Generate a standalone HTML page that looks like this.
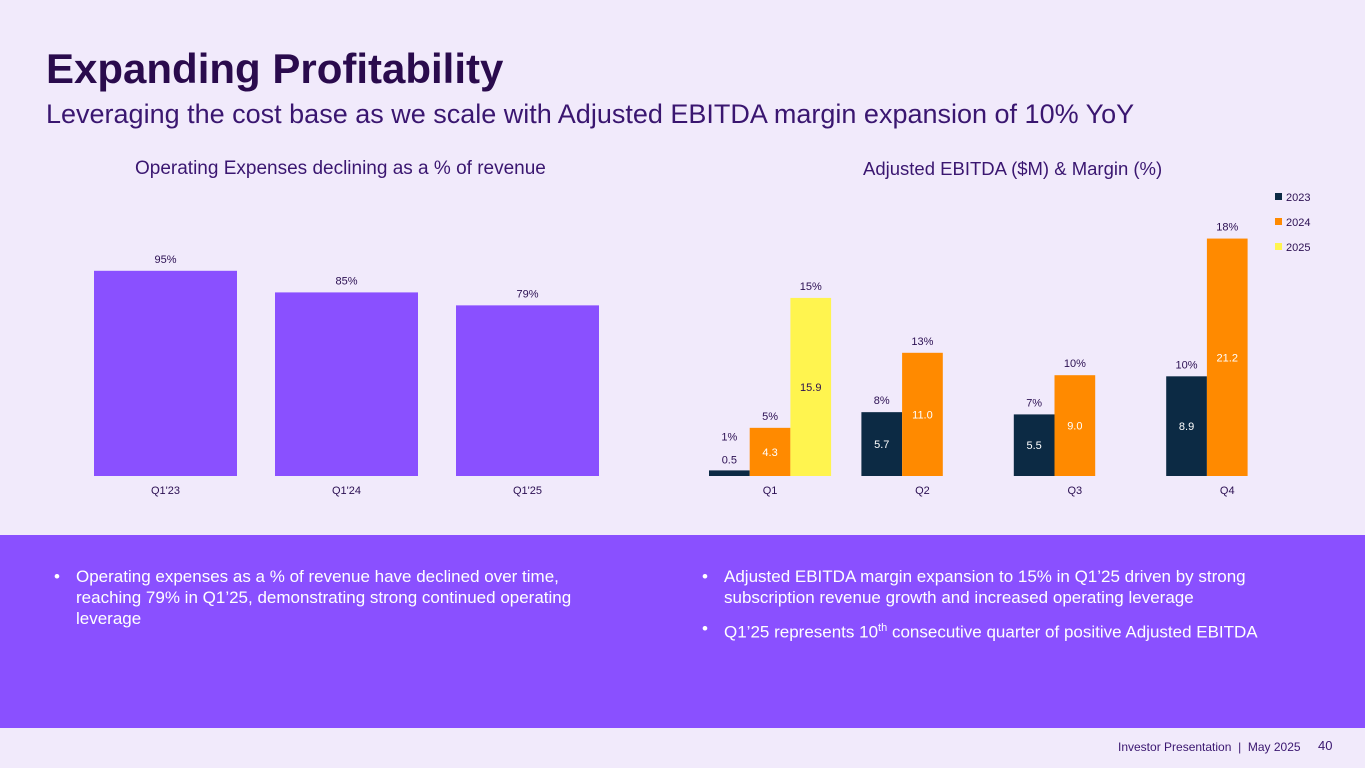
<!DOCTYPE html>
<html><head><meta charset="utf-8"><style>
body{margin:0;width:1365px;height:768px;background:#f1eafb;font-family:"Liberation Sans",sans-serif;overflow:hidden;position:relative;color:#2b0f52}
.t{position:absolute;white-space:nowrap}
#band{position:absolute;left:0;top:535px;width:1365px;height:193px;background:#8a50ff}
.b{position:absolute;color:#fff;font-size:17px;line-height:21px}
.b span.d{position:absolute;left:-22px}
</style></head><body>
<div class="t" style="left:46px;top:45px;font-size:42px;font-weight:bold;color:#2a0b4d">Expanding Profitability</div>
<div class="t" style="left:46px;top:99px;font-size:27px;color:#3a1670">Leveraging the cost base as we scale with Adjusted EBITDA margin expansion of 10% YoY</div>
<div class="t" style="left:135px;top:158px;font-size:19px;color:#3a1670">Operating Expenses declining as a % of revenue</div>
<div class="t" style="left:863px;top:158px;font-size:18.5px;color:#3a1670">Adjusted EBITDA ($M) &amp; Margin (%)</div>
<svg id="c" width="1365" height="535" style="position:absolute;left:0;top:0"></svg>
<div id="band"></div>
<div class="b" style="left:76px;top:566px;width:530px"><span class="d">•</span>Operating expenses as a % of revenue have declined over time, reaching 79% in Q1’25, demonstrating strong continued operating leverage</div>
<div class="b" style="left:724px;top:566px;width:560px"><span class="d">•</span>Adjusted EBITDA margin expansion to 15% in Q1’25 driven by strong subscription revenue growth and increased operating leverage</div>
<div class="b" style="left:724px;top:618px;width:600px"><span class="d">•</span>Q1’25 represents 10<sup style="font-size:11px">th</sup> consecutive quarter of positive Adjusted EBITDA</div>
<div class="t" style="left:1118px;top:740px;font-size:12px;color:#3a1670">Investor Presentation &nbsp;|&nbsp; May 2025</div>
<div class="t" style="left:1318px;top:738px;font-size:13px;color:#3a1670">40</div>
<script>
const opexCats=["Q1'23","Q1'24","Q1'25"];
const opexVals=[95,85,79];
const quarters=["Q1","Q2","Q3","Q4"];
const years=["2023","2024","2025"];
const e2023=[0.5,5.7,5.5,8.9];
const e2024=[4.3,11.0,9.0,21.2];
const e2025=[15.9,null,null,null];
const m2023=["1%","8%","7%","10%"];
const m2024=["5%","13%","10%","18%"];
const m2025=["15%","","",""];
const NS="http://www.w3.org/2000/svg",svg=document.getElementById('c');
function mk(t,a,txt){const e=document.createElementNS(NS,t);for(const k in a)e.setAttribute(k,a[k]);if(txt!=null)e.textContent=txt;svg.appendChild(e);return e;}
const base=476;
const yL=v=>base-v*2.16, xL=i=>94+i*181;
opexCats.forEach((c,i)=>{
 const r=mk('rect',{x:xL(i),y:yL(opexVals[i]),width:143,height:base-yL(opexVals[i]),fill:'#8a50ff'});
 
 const l=mk('text',{x:xL(i)+71.5,y:yL(opexVals[i])-8,'font-size':11,'text-anchor':'middle',fill:'#2b0f52'},opexVals[i]+'%');
 
 const x=mk('text',{x:xL(i)+71.5,y:494,'font-size':11,'text-anchor':'middle',fill:'#2b0f52'},c);
 
});
const yR=v=>base-v*11.2, gx=i=>709+i*152.4, bw=40.7;
const series=[[e2023,m2023,'#0c2a44','#fff'],[e2024,m2024,'#ff8a00','#fff'],[e2025,m2025,'#fff44f','#2b0f52']];
quarters.forEach((q,i)=>{
 series.forEach((s,j)=>{
  const v=s[0][i]; if(v==null)return;
  const x=gx(i)+j*bw,y=yR(v);
  const r=mk('rect',{x:x,y:y,width:bw,height:base-y,fill:s[2]});
  
  const small=(base-y)<20;
  const vl=mk('text',{x:x+bw/2,y:small?y-7:(y+base)/2+4,'font-size':11,'text-anchor':'middle',fill:small?'#2b0f52':s[3]},v.toFixed(1));
  
  const ml=mk('text',{x:x+bw/2,y:small?y-30:y-8,'font-size':11,'text-anchor':'middle',fill:'#2b0f52'},s[1][i]);
  
 });
 const xl=mk('text',{x:gx(i)+bw*1.5,y:494,'font-size':11,'text-anchor':'middle',fill:'#2b0f52'},q);
 
});
years.forEach((yv,j)=>{
 const r=mk('rect',{x:1275,y:193+j*25,width:7,height:7,fill:series[j][2]});
 
 const t=mk('text',{x:1286,y:201+j*25,'font-size':11,fill:'#2b0f52'},yv);
 
});
</script>
</body></html>
